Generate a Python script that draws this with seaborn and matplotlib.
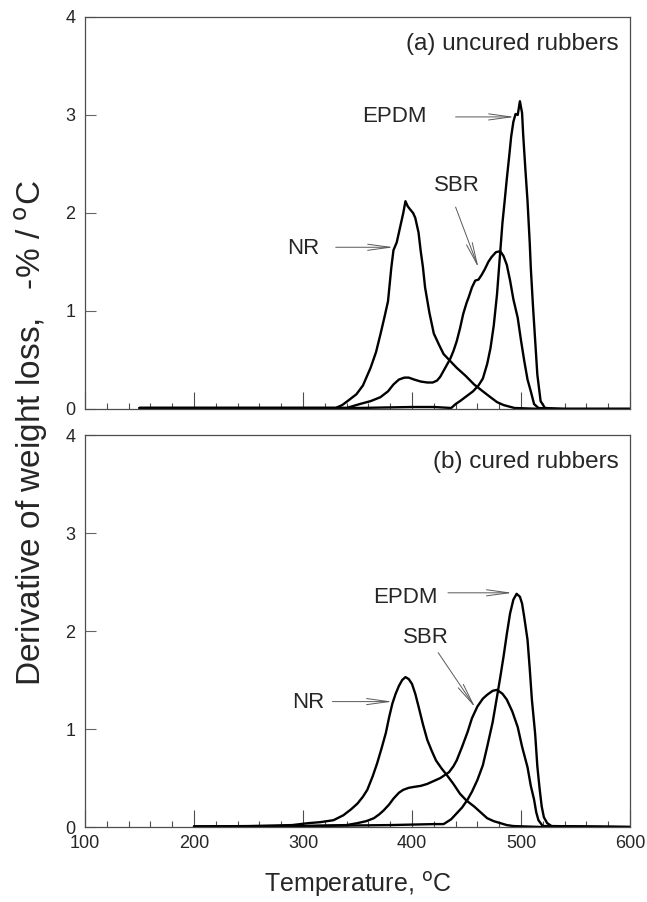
import matplotlib
matplotlib.use("Agg")
import matplotlib.pyplot as plt
import seaborn as sns

sns.set_style("ticks")
plt.rcParams['font.family'] = ['Liberation Sans', 'DejaVu Sans']

# ----- (a) uncured rubbers -----
nr_a_t = [150, 200, 250, 300, 330, 336, 342, 349, 355, 362, 367, 371, 375, 378, 381, 383, 386,
          389, 392, 394, 396, 398, 401, 403, 406, 408, 410, 412, 416, 420, 425, 429, 435, 441,
          449, 457, 465, 472, 478, 484, 494, 520, 600]
nr_a_v = [0.01, 0.01, 0.01, 0.01, 0.01, 0.04, 0.09, 0.15, 0.24, 0.42, 0.58, 0.76, 0.95, 1.10, 1.44,
          1.62, 1.70, 1.85, 2.00, 2.12, 2.07, 2.04, 2.00, 1.95, 1.80, 1.61, 1.45, 1.24, 0.98, 0.77,
          0.65, 0.56, 0.49, 0.42, 0.34, 0.25, 0.18, 0.12, 0.07, 0.04, 0.01, 0.0, 0.0]

sbr_a_t = [150, 250, 340, 352, 362, 371, 378, 383, 388, 393, 397, 402, 408, 414, 419, 423, 426,
           429, 432, 435, 438, 441, 444, 447, 450, 452, 455, 458, 461, 464, 467, 470, 473, 477,
           481, 484, 487, 490, 493, 497, 500, 503, 506, 509, 512, 516, 530, 600]
sbr_a_v = [0.01, 0.01, 0.01, 0.05, 0.08, 0.12, 0.18, 0.25, 0.30, 0.32, 0.32, 0.30, 0.28, 0.27,
           0.27, 0.29, 0.33, 0.39, 0.45, 0.51, 0.59, 0.69, 0.82, 0.97, 1.08, 1.14, 1.24, 1.31, 1.32,
           1.37, 1.43, 1.50, 1.55, 1.60, 1.61, 1.56, 1.47, 1.31, 1.12, 0.93, 0.70, 0.49, 0.30, 0.18,
           0.05, 0.01, 0.0, 0.0]

epdm_a_t = [150, 250, 350, 400, 420, 436, 440, 444, 450, 456, 461, 465, 469, 472, 475, 478, 481,
            483, 485, 487, 489, 491, 493, 495, 497, 499, 501, 502, 504, 506, 508, 509, 511, 513,
            515, 518, 522, 540, 600]
epdm_a_v = [0.01, 0.01, 0.01, 0.02, 0.02, 0.01, 0.05, 0.08, 0.13, 0.18, 0.24, 0.31, 0.46, 0.62,
            0.85, 1.17, 1.61, 1.90, 2.12, 2.35, 2.56, 2.78, 2.93, 3.01, 3.00, 3.14, 3.02, 2.80, 2.45,
            2.12, 1.70, 1.44, 1.05, 0.70, 0.35, 0.08, 0.01, 0.0, 0.0]

# ----- (b) cured rubbers -----
nr_b_t = [200, 250, 290, 305, 316, 328, 337, 344, 350, 355, 359, 364, 368, 372, 376, 379, 382,
          385, 388, 391, 394, 397, 400, 403, 406, 410, 414, 418, 422, 427, 432, 438, 444, 450,
          457, 463, 469, 475, 481, 487, 493, 520, 600]
nr_b_v = [0.005, 0.01, 0.02, 0.04, 0.05, 0.07, 0.12, 0.18, 0.24, 0.31, 0.38, 0.52, 0.65, 0.80,
          0.96, 1.12, 1.26, 1.36, 1.44, 1.50, 1.53, 1.51, 1.46, 1.36, 1.23, 1.05, 0.89, 0.78, 0.68,
          0.60, 0.53, 0.44, 0.34, 0.27, 0.21, 0.15, 0.09, 0.06, 0.04, 0.02, 0.01, 0.0, 0.0]

sbr_b_t = [200, 300, 340, 350, 358, 365, 370, 374, 379, 383, 388, 392, 397, 402, 408, 414, 420,
           426, 430, 434, 438, 441, 446, 451, 455, 460, 465, 469, 474, 478, 483, 487, 492, 497,
           501, 506, 509, 512, 514, 516, 520, 600]
sbr_b_v = [0.005, 0.01, 0.02, 0.04, 0.06, 0.09, 0.13, 0.17, 0.23, 0.29, 0.35, 0.38, 0.40, 0.41,
           0.42, 0.44, 0.47, 0.50, 0.53, 0.56, 0.62, 0.68, 0.82, 0.97, 1.11, 1.23, 1.31, 1.35, 1.39,
           1.40, 1.36, 1.30, 1.18, 1.02, 0.82, 0.61, 0.42, 0.28, 0.15, 0.07, 0.01, 0.0]

epdm_b_t = [200, 300, 380, 420, 429, 436, 441, 446, 451, 455, 460, 465, 469, 474, 478, 481, 484,
            487, 490, 493, 496, 499, 501, 503, 506, 508, 510, 513, 515, 517, 519, 521, 524, 528,
            600]
epdm_b_v = [0.005, 0.01, 0.02, 0.03, 0.03, 0.08, 0.14, 0.20, 0.28, 0.36, 0.48, 0.63, 0.82, 1.07,
            1.33, 1.53, 1.74, 1.97, 2.18, 2.32, 2.38, 2.35, 2.28, 2.14, 1.91, 1.62, 1.30, 0.95, 0.62,
            0.40, 0.21, 0.10, 0.04, 0.01, 0.0]

# labels: (text, label x, label y, arrow start, arrow tip)
labels_a = [("NR", 300, 1.64, (330, 1.65), (383, 1.65)),
            ("SBR", 441, 2.28, (440, 2.06), (461, 1.44)),
            ("EPDM", 384, 2.98, (440, 2.98), (494, 2.98))]
labels_b = [("NR", 305, 1.27, (327, 1.28), (382, 1.28)),
            ("SBR", 413, 1.93, (424, 1.78), (458, 1.22)),
            ("EPDM", 394, 2.34, (433, 2.39), (492, 2.39))]

panels = [
    ("(a) uncured rubbers", [(nr_a_t, nr_a_v), (sbr_a_t, sbr_a_v), (epdm_a_t, epdm_a_v)], labels_a),
    ("(b) cured rubbers", [(nr_b_t, nr_b_v), (sbr_b_t, sbr_b_v), (epdm_b_t, epdm_b_v)], labels_b),
]

fig = plt.figure(figsize=(6.47, 9.02), dpi=100)
ax_a = fig.add_axes([0.1314, 0.5466, 0.8423, 0.4346])
ax_b = fig.add_axes([0.1314, 0.0831, 0.8423, 0.4346])

for ax, (title, curves, labels) in zip([ax_a, ax_b], panels):
    for t, v in curves:
        sns.lineplot(x=t, y=v, ax=ax, color='black', linewidth=1.7, sort=False)

    for name, lx, ly, start, tip in labels:
        ax.text(lx, ly, name, ha='center', va='center', fontsize=16)
        ax.annotate('', xy=tip, xytext=start,
                    arrowprops=dict(arrowstyle='->,head_length=1.6,head_width=0.22',
                                    color='0.35', lw=0.7, shrinkA=0, shrinkB=0))

    ax.text(590, 3.72, title, ha='right', va='center', fontsize=17.5)

    ax.set_xlim(100, 600)
    ax.set_ylim(0, 4)
    ax.set_xticks([100, 200, 300, 400, 500, 600])
    ax.set_xticks(range(100, 601, 20), minor=True)
    ax.set_yticks([0, 1, 2, 3, 4])
    ax.tick_params(axis='x', which='major', direction='in', length=12, width=0.8,
                   color='0.3', labelsize=13, pad=6)
    ax.tick_params(axis='x', which='minor', direction='in', length=4.5, width=0.8, color='0.3')
    ax.tick_params(axis='y', which='major', direction='in', length=8, width=0.8,
                   color='0.4', labelsize=13, pad=7)
    for s in ax.spines.values():
        s.set_linewidth(0.9)
        s.set_color('0.3')
    ax.set_xlabel('')
    ax.set_ylabel('')

ax_a.tick_params(axis='x', which='both', labelbottom=False)
ax_b.set_xlabel('Temperature, $^{\\rm o}$C', fontsize=18, labelpad=13)
fig.text(0.048, 0.52, 'Derivative of weight loss,   -% / $^{\\rm o}$C',
         rotation=90, ha='center', va='center', fontsize=24)

fig.savefig('out.png', dpi=100)
